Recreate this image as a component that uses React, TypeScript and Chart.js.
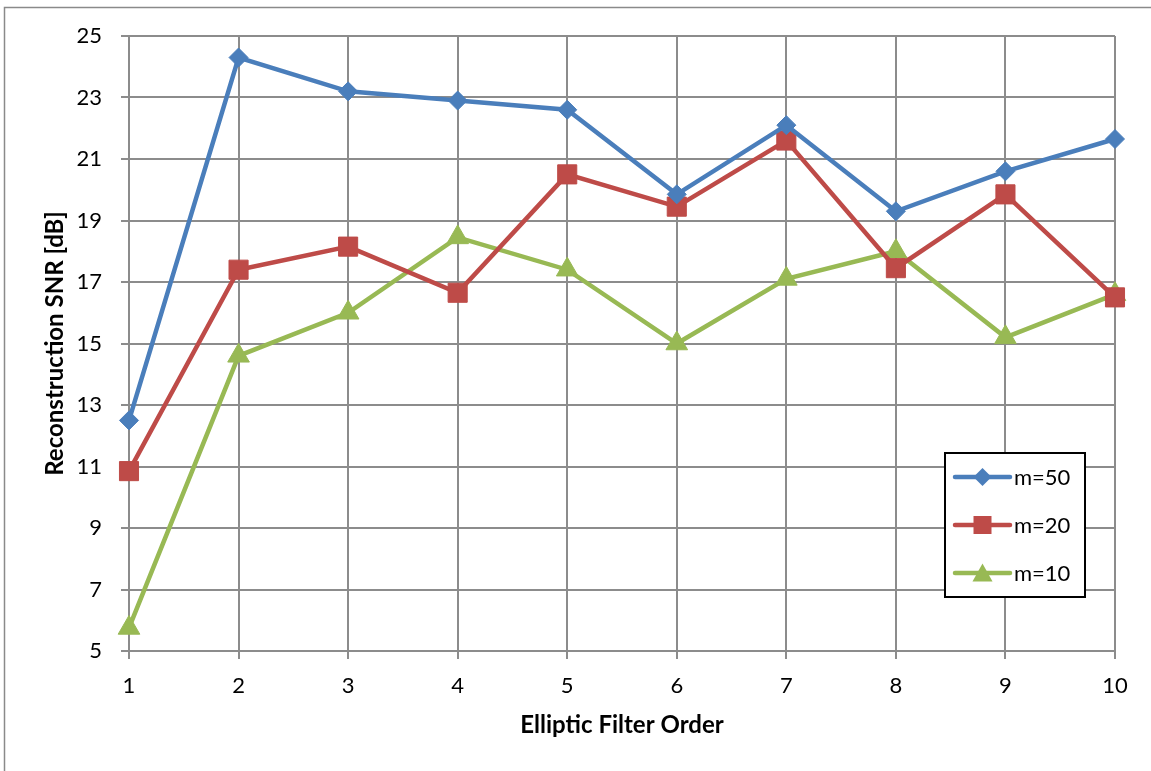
import React, { useEffect, useRef } from "react";
import { Chart, registerables } from "chart.js";

Chart.register(...registerables);

const categories = ["1", "2", "3", "4", "5", "6", "7", "8", "9", "10"];
const yMin = 5;
const yMax = 25;
const yStep = 2;
const xTitle = "Elliptic Filter Order";
const yTitle = "Reconstruction SNR [dB]";
const seriesLabels = ["m=50", "m=20", "m=10"];
const m50 = [12.5, 24.3, 23.2, 22.9, 22.6, 19.85, 22.1, 19.3, 20.6, 21.65];
const m20 = [10.85, 17.4, 18.15, 16.65, 20.5, 19.45, 21.6, 17.45, 19.85, 16.5];
const m10 = [5.75, 14.6, 16.0, 18.45, 17.4, 15.0, 17.1, 18.0, 15.2, 16.6];
const seriesColors = ["#4A7EBB", "#BE4B48", "#98B954"];
const seriesStyles = ["rectRot", "rect", "triangle"];

const FONT = "Lato, 'Open Sans', sans-serif";
const GRID = "#8c8c8c";

function drawMarker(ctx: CanvasRenderingContext2D, style: string, x: number, y: number, color: string) {
  ctx.save();
  ctx.fillStyle = color;
  ctx.beginPath();
  if (style === "rectRot") {
    const r = 9;
    ctx.moveTo(x - r, y);
    ctx.lineTo(x, y - r);
    ctx.lineTo(x + r, y);
    ctx.lineTo(x, y + r);
  } else if (style === "rect") {
    const h = 9;
    ctx.rect(x - h, y - h, 2 * h, 2 * h);
  } else {
    const w = 10;
    const h = 17;
    ctx.moveTo(x, y - h / 2 - 1);
    ctx.lineTo(x + w, y + h / 2);
    ctx.lineTo(x - w, y + h / 2);
  }
  ctx.closePath();
  ctx.fill();
  ctx.restore();
}

const framePlugin = {
  id: "frameAndLegend",
  beforeDraw(chart: any) {
    const ctx = chart.ctx as CanvasRenderingContext2D;
    ctx.save();
    ctx.fillStyle = "#ffffff";
    ctx.fillRect(0, 0, chart.width, chart.height);
    ctx.strokeStyle = "#8a8a8a";
    ctx.lineWidth = 1.5;
    ctx.beginPath();
    ctx.moveTo(4.5, chart.height);
    ctx.lineTo(4.5, 7.5);
    ctx.lineTo(chart.width, 7.5);
    ctx.stroke();
    ctx.restore();
  },
  afterDatasetsDraw(chart: any) {
    const ctx = chart.ctx as CanvasRenderingContext2D;
    const area = chart.chartArea;
    const left = area.right - 170;
    const top = area.top + 417;
    const w = 140;
    const h = 144;
    ctx.save();
    ctx.fillStyle = "#ffffff";
    ctx.fillRect(left, top, w, h);
    ctx.strokeStyle = "#000000";
    ctx.lineWidth = 2;
    ctx.strokeRect(left, top, w, h);
    chart.data.datasets.forEach((ds: any, i: number) => {
      const y = top + 24 + i * 48;
      const x0 = left + 10;
      const x1 = left + 65;
      ctx.strokeStyle = ds.borderColor;
      ctx.lineWidth = 4.5;
      ctx.lineCap = "round";
      ctx.beginPath();
      ctx.moveTo(x0, y);
      ctx.lineTo(x1, y);
      ctx.stroke();
      drawMarker(ctx, ds.pointStyle, (x0 + x1) / 2, y, ds.borderColor);
      ctx.fillStyle = "#000000";
      ctx.font = `22px ${FONT}`;
      ctx.textAlign = "left";
      ctx.textBaseline = "middle";
      ctx.fillText(ds.label, x1 + 4, y + 1);
    });
    ctx.restore();
  },
};

export default function App() {
  const ref = useRef<HTMLCanvasElement | null>(null);

  useEffect(() => {
    document.body.style.margin = "0";
    const canvas = ref.current;
    if (!canvas) return;
    const seriesData = [m50, m20, m10];
    const radii = [9.5, 13.5, 12.5];
    const chart = new Chart(canvas, {
      type: "line",
      data: {
        labels: categories,
        datasets: seriesLabels.map((label, i) => ({
          label,
          data: seriesData[i],
          borderColor: seriesColors[i],
          backgroundColor: seriesColors[i],
          pointBackgroundColor: seriesColors[i],
          pointBorderColor: seriesColors[i],
          pointBorderWidth: 1,
          borderWidth: 4.5,
          pointStyle: seriesStyles[i] as any,
          pointRadius: radii[i],
          tension: 0,
          order: i,
        })),
      },
      options: {
        responsive: false,
        animation: false,
        layout: { padding: { left: 0, top: 36, right: 36, bottom: 0 } },
        plugins: {
          legend: { display: false },
          tooltip: { enabled: false },
          title: { display: false },
        },
        scales: {
          x: {
            type: "category",
            offset: false,
            grid: {
              color: GRID,
              lineWidth: 2,
              tickLength: 8,
              offset: false,
            },
            border: { color: GRID, width: 2 },
            ticks: {
              color: "#000000",
              font: { family: FONT, size: 22, lineHeight: 1.2 },
              padding: 14,
              maxRotation: 0,
            },
            title: {
              display: true,
              text: xTitle,
              color: "#000000",
              font: { family: FONT, size: 24, weight: "bold", lineHeight: 1.2 },
              padding: { top: 0, bottom: 31 },
            },
            afterFit: (scale: any) => {
              scale.height = 120;
            },
          },
          y: {
            type: "linear",
            min: yMin,
            max: yMax,
            grid: { color: GRID, lineWidth: 2, tickLength: 8 },
            border: { color: GRID, width: 2 },
            ticks: {
              stepSize: yStep,
              color: "#000000",
              font: { family: FONT, size: 22, lineHeight: 1.2 },
              padding: 19,
            },
            title: {
              display: true,
              text: yTitle,
              color: "#000000",
              font: { family: FONT, size: 24, weight: "bold", lineHeight: 1.2 },
              padding: { top: 41, bottom: 0 },
            },
            afterFit: (scale: any) => {
              scale.width = 129;
            },
          },
        },
      },
      plugins: [framePlugin],
    });
    return () => chart.destroy();
  }, []);

  return <canvas ref={ref} width={1151} height={771} style={{ display: "block" }} />;
}
